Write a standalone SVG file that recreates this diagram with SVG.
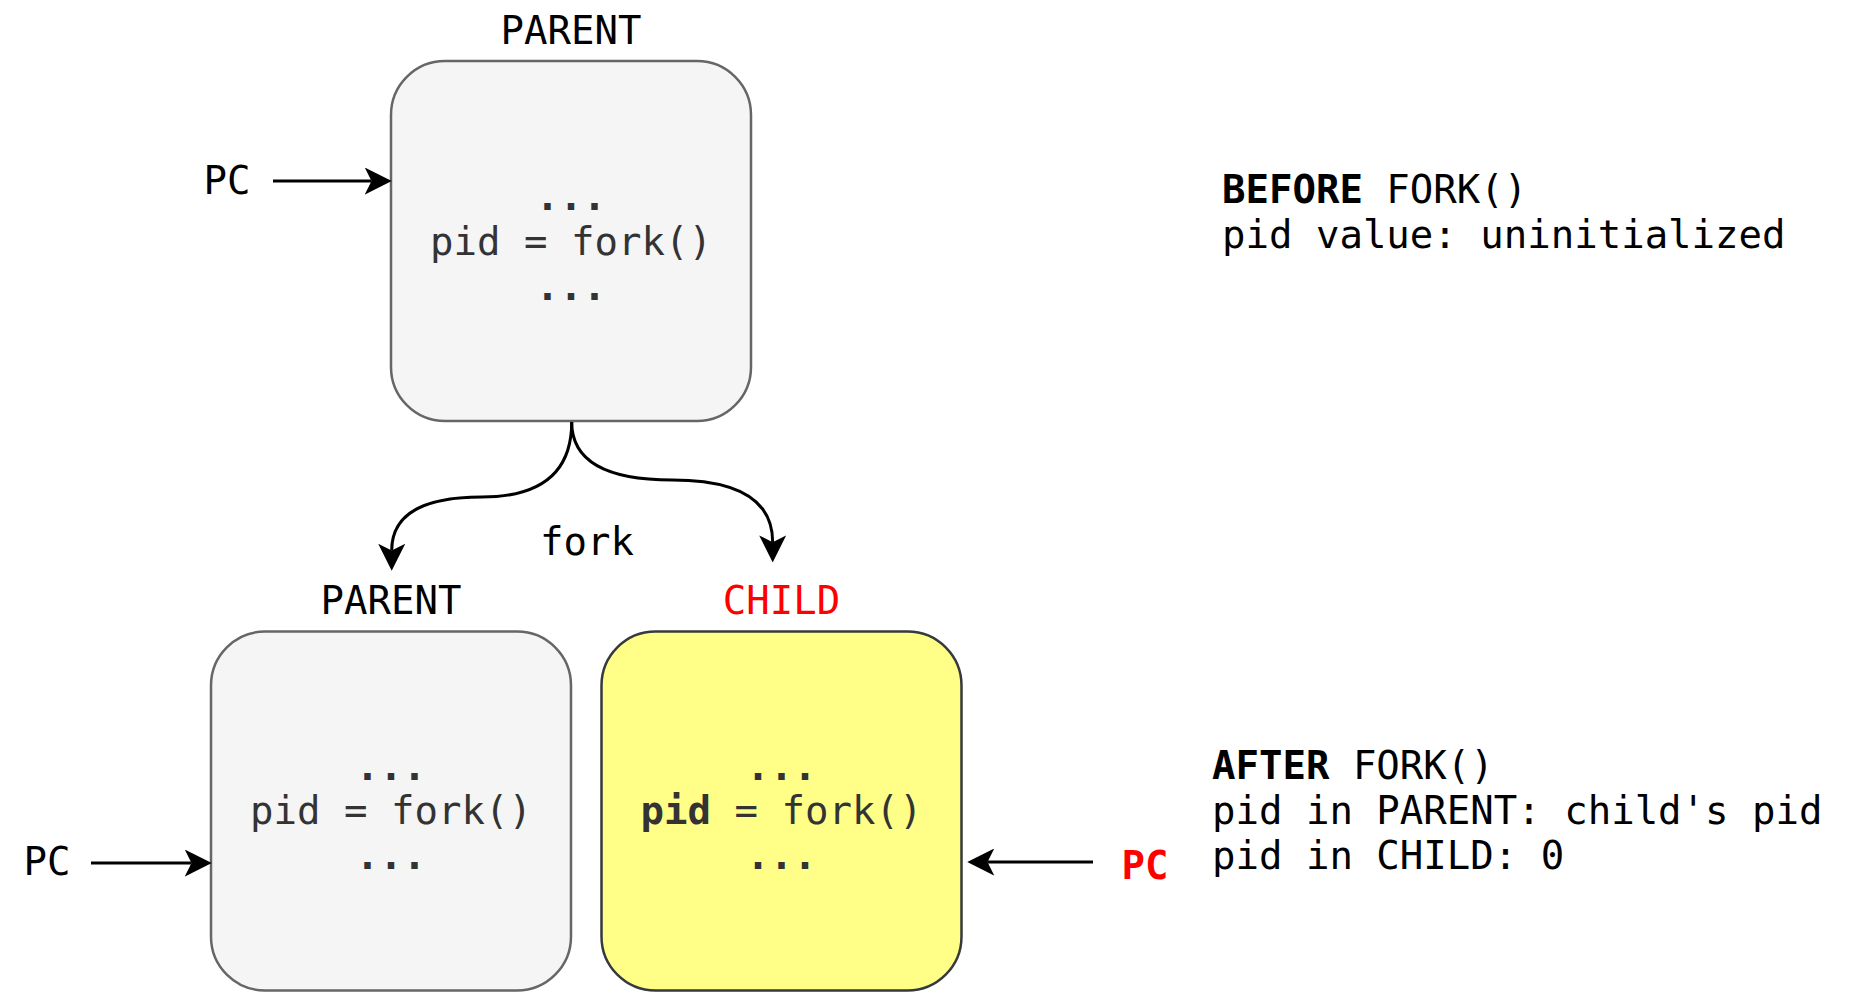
<svg xmlns="http://www.w3.org/2000/svg" width="1863" height="993" viewBox="0 0 1863 993">
<defs>
<marker id="arrow" markerUnits="userSpaceOnUse" markerWidth="27" markerHeight="27" viewBox="0 0 26 26" refX="6.5" refY="13" orient="auto">
<path d="M26,13 L0,0 L6.5,13 L0,26 Z" fill="#000"/>
</marker>
</defs>
<style>
text{font-family:"DejaVu Sans Mono","Liberation Mono",monospace;font-size:39px;fill:#000}
.mid{text-anchor:middle}
.code{fill:#333333}
.b{font-weight:bold}
.red{fill:#ff0000}
.box{fill:#f5f5f5;stroke:#666666;stroke-width:2.5}
.ybox{fill:#ffff88;stroke:#36393d;stroke-width:2.5}
.edge{fill:none;stroke:#000;stroke-width:3;marker-end:url(#arrow)}
</style>
<rect width="1863" height="993" fill="#fff"/>
<g id="parent-before">
<rect class="box" x="391" y="61" width="360" height="360" rx="54" ry="54"/>
<text class="mid" x="571" y="44">PARENT</text>
<text class="mid code b" x="571" y="210">...</text>
<text class="mid code" x="571" y="255">pid = fork()</text>
<text class="mid code b" x="571" y="300">...</text>
</g>
<g id="parent-after">
<rect class="box" x="211" y="631.5" width="360" height="359" rx="54" ry="54"/>
<text class="mid" x="391" y="614">PARENT</text>
<text class="mid code b" x="391" y="780">...</text>
<text class="mid code" x="391" y="824">pid = fork()</text>
<text class="mid code b" x="391" y="869">...</text>
</g>
<g id="child-after">
<rect class="ybox" x="601.5" y="631.5" width="360" height="359" rx="54" ry="54"/>
<text class="mid red" x="781.5" y="614">CHILD</text>
<text class="mid code b" x="781.5" y="780">...</text>
<text class="mid code" x="781.5" y="824"><tspan class="b">pid</tspan> = fork()</text>
<text class="mid code b" x="781.5" y="869">...</text>
</g>
<g id="pc-labels">
<text class="mid" x="227" y="194">PC</text>
<text class="mid" x="47" y="875">PC</text>
<text class="mid red b" x="1145" y="879">PC</text>
</g>
<g id="notes">
<text x="1222" y="203"><tspan class="b">BEFORE</tspan> FORK()</text>
<text x="1222" y="248">pid value: uninitialized</text>
<text x="1212" y="779"><tspan class="b">AFTER</tspan> FORK()</text>
<text x="1212" y="824">pid in PARENT: child's pid</text>
<text x="1212" y="869">pid in CHILD: 0</text>
</g>
<g id="connectors">
<path class="edge" d="M273,181 L371.5,181"/>
<path class="edge" d="M91,863 L191.5,863"/>
<path class="edge" d="M1093,862 L987.5,862"/>
<path class="edge" d="M571.7,422 Q571.7,497 481.7,497 Q391.7,497 391.7,550.5"/>
<path class="edge" d="M571.7,422 Q571.7,480 672.2,480 Q772.7,480 772.7,542.2"/>
<text class="mid" x="587" y="555">fork</text>
</g>
</svg>
